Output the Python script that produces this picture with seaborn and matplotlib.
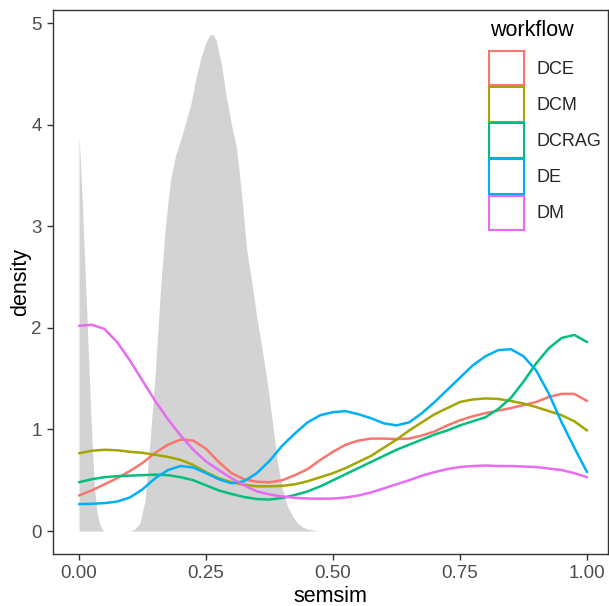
import numpy as np
import pandas as pd
import matplotlib
matplotlib.use("Agg")
import matplotlib.pyplot as plt
from matplotlib.patches import Patch
import seaborn as sns

# ---- data ----
workflows = ["DCE", "DCM", "DCRAG", "DE", "DM"]
colors = ["#F8766D", "#A3A500", "#00BF7D", "#00B0F6", "#E76BF3"]

semsim_grid = [0.000, 0.025, 0.050, 0.075, 0.100, 0.125, 0.150, 0.175, 0.200, 0.225,
               0.250, 0.275, 0.300, 0.325, 0.350, 0.375, 0.400, 0.425, 0.450, 0.475,
               0.500, 0.525, 0.550, 0.575, 0.600, 0.625, 0.650, 0.675, 0.700, 0.725,
               0.750, 0.775, 0.800, 0.825, 0.850, 0.875, 0.900, 0.925, 0.950, 0.975,
               1.000]

dens_DCE = [0.35, 0.40, 0.46, 0.52, 0.59, 0.67, 0.77, 0.85, 0.90, 0.89,
            0.81, 0.68, 0.57, 0.51, 0.485, 0.48, 0.50, 0.55, 0.61, 0.70,
            0.78, 0.85, 0.89, 0.91, 0.91, 0.905, 0.91, 0.94, 0.98, 1.04,
            1.09, 1.13, 1.16, 1.185, 1.21, 1.24, 1.27, 1.32, 1.35, 1.35,
            1.28]
dens_DCM = [0.765, 0.79, 0.80, 0.795, 0.78, 0.77, 0.75, 0.73, 0.70, 0.65,
            0.58, 0.52, 0.48, 0.455, 0.44, 0.44, 0.445, 0.46, 0.49, 0.53,
            0.57, 0.62, 0.68, 0.74, 0.82, 0.90, 0.99, 1.07, 1.15, 1.21,
            1.27, 1.295, 1.305, 1.30, 1.28, 1.255, 1.22, 1.18, 1.14, 1.08,
            0.99]
dens_DCRAG = [0.48, 0.51, 0.53, 0.54, 0.545, 0.55, 0.555, 0.55, 0.53, 0.50,
              0.45, 0.40, 0.365, 0.335, 0.315, 0.31, 0.325, 0.355, 0.39, 0.44,
              0.50, 0.56, 0.62, 0.68, 0.74, 0.80, 0.85, 0.90, 0.95, 0.99,
              1.04, 1.08, 1.12, 1.20, 1.31, 1.47, 1.65, 1.80, 1.90, 1.93,
              1.86]
dens_DE = [0.265, 0.268, 0.275, 0.29, 0.33, 0.41, 0.52, 0.60, 0.64, 0.625,
           0.57, 0.51, 0.47, 0.49, 0.57, 0.69, 0.84, 0.96, 1.07, 1.14,
           1.17, 1.18, 1.15, 1.11, 1.06, 1.04, 1.07, 1.16, 1.27, 1.39,
           1.51, 1.63, 1.72, 1.78, 1.79, 1.72, 1.58, 1.35, 1.07, 0.82,
           0.58]
dens_DM = [2.02, 2.03, 1.99, 1.86, 1.68, 1.48, 1.28, 1.10, 0.94, 0.80,
           0.685, 0.60, 0.52, 0.45, 0.39, 0.36, 0.34, 0.327, 0.32, 0.318,
           0.32, 0.33, 0.35, 0.38, 0.42, 0.46, 0.50, 0.545, 0.58, 0.61,
           0.63, 0.64, 0.645, 0.64, 0.64, 0.635, 0.63, 0.615, 0.60, 0.57,
           0.53]

# grey background density
gray_x = [0.000, 0.005, 0.010, 0.015, 0.020, 0.025, 0.030, 0.035, 0.040, 0.045, 0.050,
          0.100, 0.110, 0.120, 0.130, 0.140, 0.150, 0.160, 0.170, 0.180, 0.190, 0.200,
          0.210, 0.220, 0.230, 0.240, 0.250, 0.255, 0.260, 0.265, 0.270, 0.280, 0.290,
          0.300, 0.310, 0.320, 0.330, 0.340, 0.350, 0.360, 0.370, 0.380, 0.390, 0.400,
          0.410, 0.420, 0.430, 0.440, 0.450, 0.460, 0.470]
gray_y = [3.90, 3.40, 2.80, 2.20, 1.55, 0.95, 0.45, 0.20, 0.08, 0.02, 0.00,
          0.00, 0.02, 0.08, 0.30, 0.90, 1.55, 2.35, 3.00, 3.45, 3.70, 3.85,
          4.02, 4.20, 4.45, 4.66, 4.81, 4.86, 4.89, 4.88, 4.83, 4.60, 4.28,
          4.00, 3.77, 3.32, 2.77, 2.45, 2.10, 1.80, 1.49, 1.10, 0.70, 0.42,
          0.25, 0.15, 0.08, 0.04, 0.02, 0.01, 0.00]

x_ticks = [0.00, 0.25, 0.50, 0.75, 1.00]
x_ticklabels = ["0.00", "0.25", "0.50", "0.75", "1.00"]
y_ticks = [0, 1, 2, 3, 4, 5]

# ---- build tidy frame ----
series = [dens_DCE, dens_DCM, dens_DCRAG, dens_DE, dens_DM]
df = pd.DataFrame({
    "semsim": np.tile(semsim_grid, len(workflows)),
    "density": np.concatenate(series),
    "workflow": np.repeat(workflows, len(semsim_grid)),
})

sns.set_theme(style="white")
plt.rcParams["font.family"] = ["Liberation Sans", "DejaVu Sans"]

W, H = 609, 606
fig = plt.figure(figsize=(W / 100, H / 100), dpi=100)
ax = fig.add_axes([53 / W, 1 - 554 / H, 555 / W, 544 / H])

ax.fill_between(gray_x, 0, gray_y, color="#D3D3D3", linewidth=0, zorder=1)

sns.lineplot(data=df, x="semsim", y="density", hue="workflow",
             hue_order=workflows, palette=dict(zip(workflows, colors)),
             linewidth=1.8, legend=False, ax=ax, zorder=2)

ax.set_xlim(-0.0512, 1.0413)
ax.set_ylim(-0.226, 5.128)
ax.set_xticks(x_ticks)
ax.set_xticklabels(x_ticklabels)
ax.set_yticks(y_ticks)
ax.grid(False)

for s in ax.spines.values():
    s.set_visible(True)
    s.set_color("#333333")
    s.set_linewidth(1.0)

ax.tick_params(axis="both", bottom=True, left=True, direction="out", length=4.5,
               width=1.0, color="#333333", labelcolor="#4D4D4D", labelsize=13.5, pad=3.5)

ax.set_xlabel("semsim", fontsize=15.5, color="black", labelpad=3)
ax.set_ylabel("density", fontsize=15.5, color="black", labelpad=0.5)

# legend (inside panel, top right)
fig.text(490 / W, 1 - 31 / H, "workflow", fontsize=15.5, color="black",
         ha="left", va="center")
handles = [Patch(facecolor="white", edgecolor=c, linewidth=1.5) for c in colors]
leg = ax.legend(handles, workflows, loc="upper left",
                bbox_to_anchor=(489 / W, 1 - 51 / H), bbox_transform=fig.transFigure,
                frameon=False, fontsize=13,
                handlelength=1.94, handleheight=2.55, labelspacing=0.1,
                handletextpad=0.7, borderpad=0, borderaxespad=0)

fig.savefig("out.png", dpi=100)
